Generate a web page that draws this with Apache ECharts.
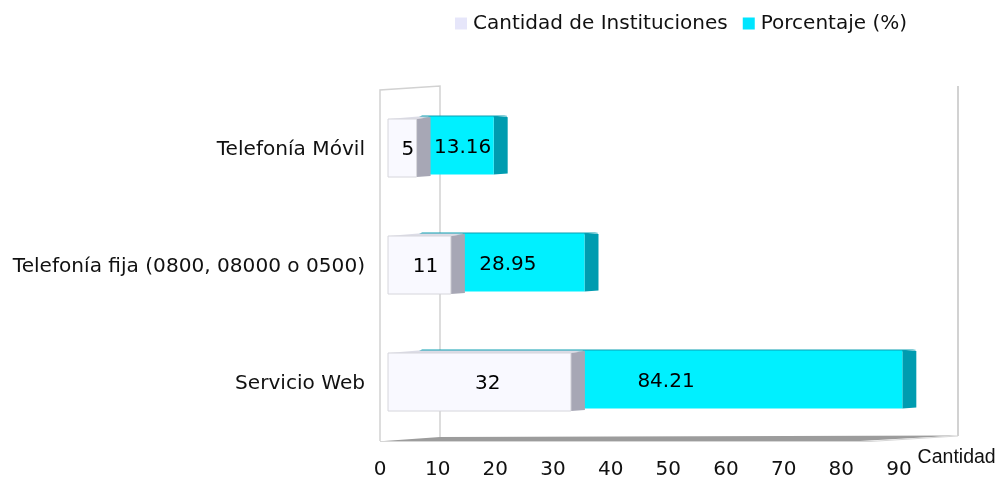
<!DOCTYPE html>
<html><head><meta charset="utf-8">
<style>html,body{margin:0;padding:0;background:#fff}#c{width:996px;height:477px}</style>
<script src="https://cdn.jsdelivr.net/npm/echarts@6/dist/echarts.min.js"></script>
</head><body><div id="c"></div>
<script>
const categories = ['Telefonía Móvil', 'Telefonía fija (0800, 08000 o 0500)', 'Servicio Web'];
const cantidad = [5, 11, 32];
const porcentaje = [13.16, 28.95, 84.21];
const xTicks = [0, 10, 20, 30, 40, 50, 60, 70, 80, 90];

const FONT = '"DejaVu Sans", sans-serif';
const depth = 14, halfH = 29, wallInset = 8, cyanPad = 16, cyanLift = 2.5;
const chart = echarts.init(document.getElementById('c'), null, {renderer: 'canvas'});

function poly(points, fill, stroke) {
  return {type: 'polygon', shape: {points}, style: {fill, stroke: stroke || 'none', lineWidth: 1}};
}
function label(text, x, y) {
  return {type: 'text', x, y, style: {text, fill: '#000', font: '20px ' + FONT, align: 'center', verticalAlign: 'middle'}};
}
function whiteEnd(v) { return chart.convertToPixel({xAxisIndex: 2}, v) + wallInset; }

function renderWhite(params, api) {
  const v = api.value(0), cy = api.coord([0, api.value(1)])[1];
  const x0 = api.coord([0, 0])[0] + wallInset, x1 = api.coord([v, 0])[0] + wallInset;
  const t = cy - halfH, b = cy + halfH;
  return {type: 'group', children: [
    poly([[x0, t], [x0 + 30, t - 2.5], [x1 + depth, t - 2.5], [x1, t]], '#dcdce6'),
    poly([[x1, t], [x1 + depth, t - 2], [x1 + depth, b - 1], [x1, b]], '#a7a7b5'),
    {type: 'rect', shape: {x: x0, y: t, width: x1 - x0, height: b - t}, style: {fill: '#f9f9ff', stroke: '#d6d6dc', lineWidth: 1}},
    label(String(v), (x0 + x1 + depth) / 2 - 2 + v * 0.1, cy + 2)
  ]};
}
function renderCyan(params, api) {
  const v = api.value(0), cy = api.coord([0, api.value(1)])[1] - cyanLift, w = api.value(2);
  const len = api.coord([v, 0])[0] - api.coord([0, 0])[0] + cyanPad;
  const x0 = whiteEnd(w) + depth, x1 = x0 + len;
  const t = cy - halfH, b = cy + halfH;
  const back = whiteEnd(0) + 30;
  return {type: 'group', children: [
    poly([[back, t + 1], [back + 4, t - 1], [x1 + depth, t - 1], [x1, t + 1]], '#0c9fb2'),
    poly([[x1, t], [x1 + depth - 1, t], [x1 + depth, t + 1], [x1 + depth, b - 1], [x1, b]], '#009cb0'),
    {type: 'rect', shape: {x: x0 - 1, y: t, width: len + 1, height: b - t}, style: {fill: '#00f0ff'}},
    label(String(v), x0 + 23 + v * 0.69, cy + 2.5)
  ]};
}
const whiteData = categories.map((c, i) => [cantidad[i], i]);
const cyanData = categories.map((c, i) => [porcentaje[i], i, cantidad[i]]);

const wall = '#d2d2d2';
chart.setOption({
  animation: false,
  textStyle: {fontFamily: FONT},
  legend: {
    left: 450, top: 8.5, icon: 'rect', itemWidth: 12, itemHeight: 12, itemGap: 15,
    textStyle: {fontFamily: FONT, fontSize: 20, color: '#111', padding: [0, 0, 0, 1]},
    data: ['Cantidad de Instituciones', 'Porcentaje (%)']
  },
  grid: {left: 380, top: 89.5, width: 519, height: 351, outerBoundsMode: 'none'},
  xAxis: [
    {type: 'value', min: 0, max: 90, interval: 10, position: 'bottom',
     axisLine: {show: false}, axisTick: {show: false}, splitLine: {show: false},
     axisLabel: {fontFamily: FONT, fontSize: 20, color: '#111', margin: 19, hideOverlap: false,
       formatter: v => xTicks.includes(v) ? String(v) : ''},
     name: 'Cantidad', nameLocation: 'end', nameGap: 17,
     nameTextStyle: {fontFamily: '"Liberation Sans", Arial, sans-serif', fontSize: 19.5, color: '#111',
       align: 'left', verticalAlign: 'top', padding: [7, 0, 0, 0]}},
    {type: 'value', min: 0, max: 145, show: false},
    {type: 'value', min: 0, max: 90.8, show: false}
  ],
  yAxis: {type: 'category', data: categories, inverse: true,
    axisLine: {show: false}, axisTick: {show: false}, splitLine: {show: false},
    axisLabel: {fontFamily: FONT, fontSize: 20.1, color: '#111', margin: 15, verticalAlign: 'top', padding: [-8, 0, 0, 0]}},
  graphic: [
    {type: 'polyline', z: 1, shape: {points: [[380, 441], [380, 90], [440, 86], [440, 437]]}, style: {stroke: wall, fill: 'none', lineWidth: 1.5}},
    {type: 'polyline', z: 1, shape: {points: [[958, 86], [958, 436]]}, style: {stroke: wall, fill: 'none', lineWidth: 2}},
    {type: 'polygon', z: 1, shape: {points: [[384, 441], [440, 437], [958, 435.5], [860, 441]]}, style: {fill: '#9c9c9c'}},
    {type: 'polyline', z: 1, shape: {points: [[380, 441.5], [870, 441.5], [958, 436]]}, style: {stroke: '#d6d6d6', fill: 'none', lineWidth: 1}}
  ],
  series: [
    {name: 'Cantidad de Instituciones', type: 'custom', xAxisIndex: 2, yAxisIndex: 0, z: 5, clip: false,
     renderItem: renderWhite, data: whiteData, encode: {x: 0, y: 1},
     itemStyle: {color: '#e6e6fa'}},
    {name: 'Porcentaje (%)', type: 'custom', xAxisIndex: 1, yAxisIndex: 0, z: 4, clip: false,
     renderItem: renderCyan, data: cyanData, encode: {x: 0, y: 1},
     itemStyle: {color: '#00e5ff'}}
  ]
});
</script></body></html>
